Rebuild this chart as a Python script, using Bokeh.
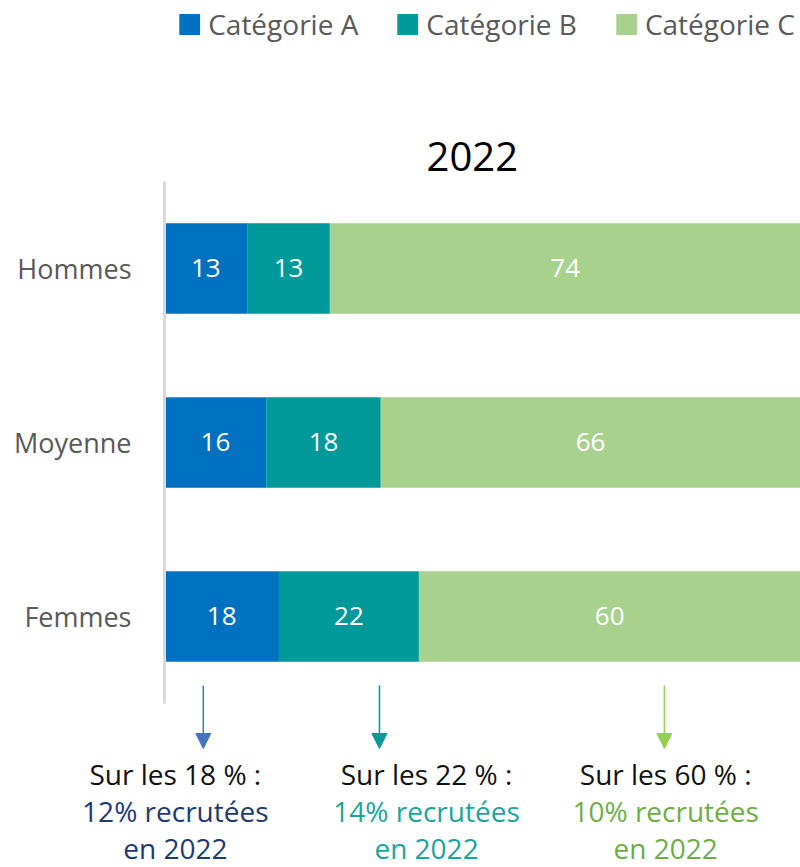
import numpy as np
from bokeh.plotting import figure
from bokeh.models import (ColumnDataSource, Range1d, FixedTicker, Legend, LegendItem,
                          Label, Arrow, NormalHead)
from bokeh.core.properties import value
from bokeh.embed import file_html
from bokeh.resources import INLINE

# ---------------- data ----------------
groups = ["Hommes", "Moyenne", "Femmes"]          # top to bottom
series_names = ["Catégorie A", "Catégorie B", "Catégorie C"]
cat_a = [13, 16, 18]
cat_b = [13, 18, 22]
cat_c = [74, 66, 60]
year_title = "2022"

# notes below the chart (one per category, about the "Femmes" bar)
note_share = [18, 22, 60]
note_recruited = [12, 14, 10]
note_year = "2022"

# ---------------- styles ----------------
FONT = "Open Sans"
bar_colors = ["#0070c0", "#009999", "#a9d18e"]
arrow_colors = ["#4472c4", "#009999", "#92d050"]
note_colors = ["#1f3a73", "#1aa5a0", "#70ad47"]
note_x = [1.7, 41.2, 78.8]          # text centre (x data units)
arrow_x = [6.1, 33.8, 78.6]
note_y = [-0.908, -1.121, -1.330]   # baselines of the three note lines

W, H = 800, 867
LEFT = 164
X_END = 100.0
px_per_unit = (W - LEFT) / X_END
x_start_full = -LEFT / px_per_unit

n = len(groups)
ypos = [n - 1 - i for i in range(n)]   # Hommes at top

src = ColumnDataSource(dict(y=ypos, A=cat_a, B=cat_b, C=cat_c))

p = figure(width=W, height=H, output_backend="svg", toolbar_location=None,
           x_range=Range1d(x_start_full, X_END), y_range=Range1d(-1.443, 3.540),
           x_axis_location=None, min_border_left=0, min_border_right=0,
           min_border_top=0, min_border_bottom=0)
p.outline_line_color = None
p.grid.visible = False
p.background_fill_color = "white"

rs = p.hbar_stack(["A", "B", "C"], y="y", height=0.52, color=bar_colors,
                  line_color=None, source=src)

# value labels centred in each segment
vals = np.array([cat_a, cat_b, cat_c], dtype=float)
rights = np.cumsum(vals, axis=0)
lefts = rights - vals
lx, ly, lt = [], [], []
for s in range(3):
    for i in range(n):
        lx.append((lefts[s, i] + rights[s, i]) / 2)
        ly.append(ypos[i])
        lt.append(str(int(vals[s, i])))
p.text(x=lx, y=ly, text=lt, text_align="center", text_baseline="middle",
       text_color="white", text_font=value(FONT), text_font_size="26px")

# y axis, drawn at x = 0 inside the frame
ax = p.yaxis[0]
ax.fixed_location = 0
ax.ticker = FixedTicker(ticks=ypos)
ax.major_label_overrides = {y: g for y, g in zip(ypos, groups)}
ax.bounds = (-0.5, n - 0.5)
ax.axis_line_color = "#d9d9d9"
ax.axis_line_width = 3
ax.major_tick_line_color = None
ax.minor_tick_line_color = None
ax.major_label_text_font = FONT
ax.major_label_text_font_size = "27px"
ax.major_label_text_color = "#595959"
ax.major_label_standoff = 27

# legend
legend = Legend(items=[LegendItem(label=nm, renderers=[r]) for nm, r in zip(series_names, rs)],
                orientation="horizontal", location="top_right",
                glyph_width=26, glyph_height=26, label_standoff=6, spacing=36,
                padding=3, margin=5, border_line_color=None, background_fill_alpha=0,
                label_text_font=FONT, label_text_font_size="28px",
                label_text_color="#595959")
p.add_layout(legend, "center")

# title
p.add_layout(Label(x=48.4, y=2.643, text=year_title, text_align="center",
                   text_baseline="middle", text_font=FONT, text_font_size="40px",
                   text_color="black"))

# arrows and notes
for k in range(3):
    p.add_layout(Arrow(end=NormalHead(size=15, fill_color=arrow_colors[k],
                                      line_color=arrow_colors[k]),
                       x_start=arrow_x[k], y_start=-0.397, x_end=arrow_x[k], y_end=-0.759,
                       line_color=arrow_colors[k], line_width=1.5))
    lines = [f"Sur les {note_share[k]} % :", f"{note_recruited[k]}% recrutées", f"en {note_year}"]
    cols = ["#111111", note_colors[k], note_colors[k]]
    for j, t in enumerate(lines):
        p.add_layout(Label(x=note_x[k], y=note_y[j], text=t, text_align="center",
                           text_baseline="alphabetic", text_font=FONT,
                           text_font_size="28px", text_color=cols[j]))

open("out.html", "w").write(file_html(p, INLINE))
